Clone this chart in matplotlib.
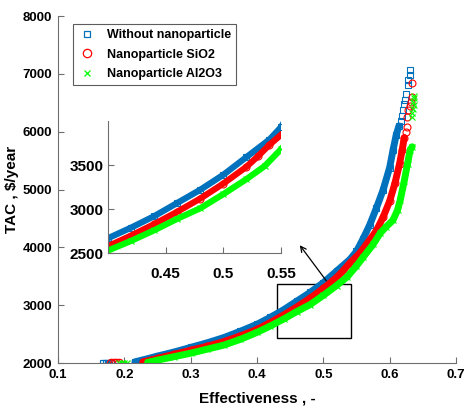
import matplotlib
matplotlib.use("Agg")
import matplotlib.pyplot as plt

plt.rcParams['font.family'] = ['Liberation Sans Narrow', 'Liberation Sans', 'DejaVu Sans']
plt.rcParams['font.weight'] = 'bold'

# front (dense part of each curve)
blue_x = [0.216, 0.23, 0.25, 0.275, 0.30, 0.325, 0.35, 0.375, 0.40, 0.42, 0.44, 0.46, 0.48,
          0.50, 0.52, 0.54, 0.55, 0.56, 0.57, 0.58, 0.59, 0.60, 0.605, 0.61, 0.614]
blue_y = [2020, 2060, 2120, 2190, 2270, 2350, 2440, 2550, 2670, 2790, 2920, 3070, 3220,
          3390, 3590, 3790, 3930, 4150, 4390, 4680, 4990, 5380, 5680, 5950, 6100]
red_x = [0.228, 0.24, 0.25, 0.275, 0.30, 0.325, 0.35, 0.375, 0.40, 0.42, 0.44, 0.46, 0.48,
         0.50, 0.52, 0.53, 0.54, 0.555, 0.57, 0.58, 0.59, 0.60, 0.608, 0.615, 0.619, 0.622]
red_y = [2020, 2050, 2080, 2150, 2220, 2290, 2370, 2470, 2580, 2700, 2830, 2970, 3120,
         3290, 3480, 3600, 3730, 3900, 4130, 4290, 4520, 4800, 5110, 5450, 5690, 5900]
green_x = [0.235, 0.25, 0.275, 0.30, 0.325, 0.35, 0.375, 0.40, 0.42, 0.44, 0.46, 0.48, 0.50,
           0.52, 0.536, 0.55, 0.56, 0.575, 0.586, 0.595, 0.605, 0.612, 0.616, 0.622, 0.627,
           0.631, 0.634]
green_y = [2010, 2050, 2110, 2170, 2240, 2310, 2410, 2530, 2640, 2760, 2890, 3010, 3170,
           3340, 3490, 3680, 3830, 4050, 4250, 4360, 4470, 4650, 4820, 5150, 5450,
           5690, 5740]

# scattered points at the top
blue_tail_x = [0.617, 0.619, 0.620, 0.622, 0.623, 0.625, 0.627, 0.628, 0.630, 0.631]
blue_tail_y = [6180, 6280, 6380, 6480, 6550, 6650, 6800, 6900, 6980, 7070]
red_tail_x = [0.624, 0.626, 0.626, 0.628, 0.630, 0.632, 0.634, 0.634]
red_tail_y = [5990, 6080, 6260, 6380, 6450, 6520, 6600, 6840]
green_tail_x = [0.633, 0.634, 0.635, 0.636, 0.635, 0.637, 0.636]
green_tail_y = [6250, 6330, 6400, 6460, 6520, 6580, 6620]

# isolated points at the bottom
blue_low_x = [0.168, 0.172, 0.176, 0.180]
blue_low_y = [2000, 2000, 2000, 2000]
red_low_x = [0.180, 0.184, 0.188, 0.192]
red_low_y = [2000, 2000, 2000, 2000]
green_low_x = [0.192, 0.196, 0.200, 0.204]
green_low_y = [2000, 2000, 2000, 2000]

labels = ['Without nanoparticle', 'Nanoparticle SiO2', 'Nanoparticle Al2O3']
c_blue = '#0072BD'
c_red = '#FF0000'
c_green = '#00FF00'
axis_col = '#6e6e6e'

series = [
    (blue_x, blue_y, blue_tail_x, blue_tail_y, blue_low_x, blue_low_y, c_blue, 's', 4),
    (red_x, red_y, red_tail_x, red_tail_y, red_low_x, red_low_y, c_red, 'o', 5),
    (green_x, green_y, green_tail_x, green_tail_y, green_low_x, green_low_y, c_green, 'x', 4),
]


def draw(ax, lw, with_label):
    for i, (x, y, tx, ty, lx, ly, c, m, ms) in enumerate(series):
        ax.plot(x, y, '-', color=c, lw=lw, solid_capstyle='round')
        ax.plot(x, y, m, color=c, mfc='none', ms=ms, mew=0.8)
        ax.plot(tx, ty, m, color=c, mfc='none', ms=ms, mew=0.8)
        ax.plot(lx, ly, m, color=c, mfc='none', ms=ms + 1, mew=0.9,
                label=labels[i] if with_label else None)


def style(ax):
    for s in ['top', 'right']:
        ax.spines[s].set_visible(False)
    for s in ['left', 'bottom']:
        ax.spines[s].set_color(axis_col)
        ax.spines[s].set_linewidth(0.8)
    ax.tick_params(direction='in', length=4, width=0.8, color=axis_col)


fig = plt.figure(figsize=(4.66, 4.13), dpi=100)
ax = fig.add_axes([0.1245, 0.121, 0.854, 0.840])
draw(ax, 5, True)
style(ax)
ax.set_xlim(0.1, 0.7)
ax.set_ylim(2000, 8000)
ax.set_xticks([0.1, 0.2, 0.3, 0.4, 0.5, 0.6, 0.7])
ax.set_xticklabels(['0.1', '0.2', '0.3', '0.4', '0.5', '0.6', '0.7'])
ax.set_yticks([2000, 3000, 4000, 5000, 6000, 7000, 8000])
ax.tick_params(labelsize=9.5, pad=4)
ax.set_xlabel('Effectiveness , -', fontsize=11, fontweight='bold', labelpad=8)
ax.set_ylabel('TAC , $/year', fontsize=11, fontweight='bold', labelpad=3)

leg = ax.legend(loc='upper left', bbox_to_anchor=(0.022, 0.995), fontsize=9,
                fancybox=False, edgecolor='#333333', handletextpad=0.8,
                borderpad=0.4, labelspacing=0.6, handlelength=1.5)
leg.get_frame().set_linewidth(0.8)

# zoom box and arrow
ax.add_patch(plt.Rectangle((0.430, 2430), 0.112, 940, fill=False, ec='black', lw=1))
ax.annotate('', xy=(0.462, 4076), xytext=(0.507, 3384),
            arrowprops=dict(arrowstyle='->', color='black', lw=0.9))

# inset
ins = fig.add_axes([0.232, 0.387, 0.371, 0.320])
draw(ins, 4.5, False)
style(ins)
ins.set_xlim(0.4, 0.55)
ins.set_ylim(2500, 4000)
ins.set_xticks([0.45, 0.5, 0.55])
ins.set_xticklabels(['0.45', '0.5', '0.55'])
ins.set_yticks([2500, 3000, 3500])
ins.tick_params(labelsize=11)
ins.tick_params(axis='x', pad=10)

fig.savefig('out.png', dpi=100)
